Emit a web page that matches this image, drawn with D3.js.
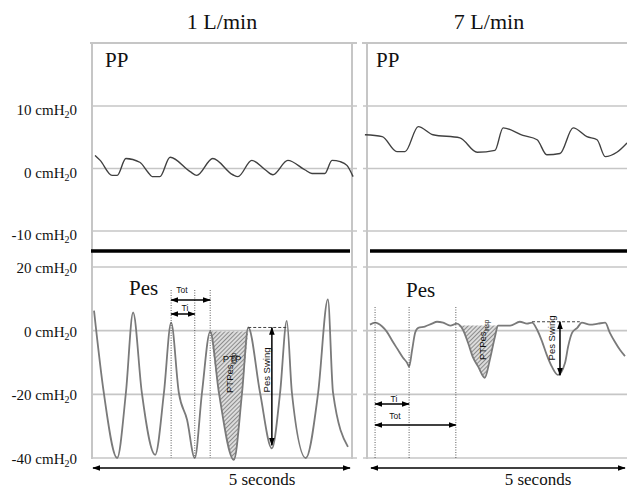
<!DOCTYPE html>
<html>
<head>
<meta charset="utf-8">
<script src="https://cdn.jsdelivr.net/npm/d3@7.9.0/dist/d3.min.js"></script>
<style>
  body { margin: 0; background: #fff; }
  svg { display: block; }
</style>
</head>
<body>
<svg id="chart" width="627" height="490"></svg>
<script>
// Column titles and tick values
const columnTitles = ["1 L/min", "7 L/min"];
const ppTicks = [-10, 0, 10];
const pesTicks = [-40, -20, 0, 20];

// Traces: [time (s), pressure (cmH2O)]
const ppLow = [
  [0.04, 2.1], [0.14, 1.3], [0.37, -1.1], [0.47, -1.1], [0.64, 1.6], [0.91, 1.0],
  [1.07, -0.6], [1.15, -1.3], [1.30, -1.3], [1.50, 1.8], [1.89, -0.5], [2.02, -1.1],
  [2.33, 1.6], [2.72, -1.0], [2.82, -1.3], [3.09, 1.3], [3.35, -0.2], [3.50, -1.0],
  [3.79, 1.3], [4.12, -0.2], [4.26, -0.8], [4.51, -0.8], [4.65, 1.3], [4.81, 1.1],
  [4.94, 0.5], [5.06, -1.3]
];
const ppHigh = [
  [-0.12, 5.4], [0.22, 5.1], [0.51, 2.7], [0.67, 2.7], [0.93, 6.7], [1.22, 5.4],
  [1.75, 4.9], [2.09, 2.6], [2.44, 2.9], [2.60, 6.5], [2.99, 5.3], [3.27, 4.6],
  [3.46, 2.2], [3.72, 2.4], [3.98, 6.5], [4.25, 5.1], [4.45, 4.6], [4.61, 1.9],
  [4.84, 2.6], [5.04, 4.1]
];
const pesLow = [
  [0.02, 6.3], [0.21, -19.5], [0.47, -40], [0.64, -19.5], [0.78, 5.7], [0.95, -19.5],
  [1.21, -39], [1.38, -19.5], [1.52, 2.5], [1.67, -19.5], [1.83, -28], [1.98, -40],
  [2.12, -19.5], [2.28, -0.3], [2.45, -19.5], [2.74, -40.6], [2.90, -19.5], [3.02, 1],
  [3.25, -19.5], [3.48, -37], [3.64, -19.5], [3.77, 3.1], [3.87, -19.5], [4.14, -40],
  [4.38, -19.5], [4.57, 9.8], [4.67, -19.5], [4.96, -36.5]
];
const pesHigh = [
  [-0.02, 1.9], [0.08, 2.5], [0.22, 1.3], [0.31, -0.3], [0.43, -3.5], [0.53, -6.0],
  [0.63, -8.5], [0.71, -10.1], [0.75, -11.3], [0.81, -6.0], [0.87, -0.6], [0.93, 0.9],
  [1.06, 1.3], [1.20, 2.2], [1.30, 2.8], [1.42, 2.5], [1.56, 1.6], [1.69, 2.2],
  [1.81, 0.3], [1.91, -3.8], [2.01, -8.5], [2.11, -11.3], [2.24, -14.8], [2.34, -9.1],
  [2.44, -1.9], [2.50, 1.6], [2.74, 1.6], [2.93, 2.8], [3.07, 2.2], [3.17, 2.5],
  [3.27, 0.3], [3.37, -3.5], [3.46, -7.6], [3.56, -11.3], [3.68, -13.9], [3.82, -10.1],
  [3.88, -5.0], [3.96, -0.6], [4.06, 0.9], [4.15, 2.5], [4.31, 1.9], [4.47, 2.2],
  [4.61, 2.5], [4.70, -0.6], [4.80, -3.5], [4.90, -6.0], [5.00, -8.0]
];

// Annotation times (s) and levels (cmH2O)
const lowTiTot = [1.52, 1.98, 2.28];   // start, end Ti, end Tot
const highTiTot = [0.08, 0.75, 1.67];
const lowPtp = [2.28, 3.02];           // inspiratory effort window
const highPtp = [1.69, 2.50];
const lowSwing = { from: 3.02, to: 3.77, at: 3.48, top: 1, bottom: -36 };
const highSwing = { from: 3.17, to: 4.11, at: 3.72, top: 2.8, bottom: -14 };

const svg = d3.select("#chart");
const serif = "'Liberation Serif', 'Times New Roman', serif";
const sans = "'Liberation Sans', Arial, sans-serif";
const gridColor = "#c6c6c6";

const yPP = d3.scaleLinear().domain([-10, 10]).range([231, 106]);
const yPes = d3.scaleLinear().domain([-40, 20]).range([458, 267]);

const defs = svg.append("defs");
defs.append("marker")
  .attr("id", "arrow")
  .attr("viewBox", "0 0 10 10")
  .attr("refX", 9).attr("refY", 5)
  .attr("markerUnits", "userSpaceOnUse")
  .attr("markerWidth", 8).attr("markerHeight", 8)
  .attr("orient", "auto-start-reverse")
  .append("path").attr("d", "M0,1.5L10,5L0,8.5Z").attr("fill", "#000");

const hatch = defs.append("pattern")
  .attr("id", "hatch")
  .attr("patternUnits", "userSpaceOnUse")
  .attr("width", 3).attr("height", 3)
  .attr("patternTransform", "rotate(45)");
hatch.append("rect").attr("width", 3).attr("height", 3).attr("fill", "#dcdcdc");
hatch.append("line").attr("x1", 0.5).attr("y1", 0).attr("x2", 0.5).attr("y2", 3)
  .attr("stroke", "#8c8c8c").attr("stroke-width", 1);

const columns = [
  {
    title: columnTitles[0], x: d3.scaleLinear().domain([0, 5]).range([93, 350]),
    gridX: [91, 357], frameX: [92, 352], thickX: [91, 350], titleX: 222,
    ppLabel: [105, 67], pesLabel: [129, 295], secondsX: 262,
    pp: ppLow, pes: pesLow, tiTot: lowTiTot, ptp: lowPtp, swing: lowSwing
  },
  {
    title: columnTitles[1], x: d3.scaleLinear().domain([0, 5]).range([371, 625]),
    gridX: [363, 627], frameX: [367], thickX: [370, 627], titleX: 489,
    ppLabel: [376, 67], pesLabel: [406, 297], secondsX: 538,
    pp: ppHigh, pes: pesHigh, tiTot: highTiTot, ptp: highPtp, swing: highSwing
  }
];

// y labels
function cmLabel(y, v, dy) {
  const t = svg.append("text")
    .attr("x", 77).attr("y", y + dy)
    .attr("text-anchor", "end")
    .attr("font-family", serif).attr("font-size", 15).attr("fill", "#111");
  t.append("tspan").text(`${v} cmH`);
  t.append("tspan").attr("font-size", 10).attr("dy", 3).text("2");
  t.append("tspan").attr("dy", -3).text("0");
}
ppTicks.forEach(v => cmLabel(yPP(v), v, 9));
pesTicks.forEach(v => cmLabel(yPes(v), v, 6));

columns.forEach(c => {
  const g = svg.append("g");
  const x = c.x;

  // title
  g.append("text").attr("x", c.titleX).attr("y", 29)
    .attr("text-anchor", "middle").attr("font-family", serif).attr("font-size", 22)
    .attr("fill", "#111").text(c.title);

  // frame and grid
  g.append("line").attr("x1", c.gridX[0] - 1).attr("x2", c.gridX[1])
    .attr("y1", 43).attr("y2", 43).attr("stroke", gridColor).attr("stroke-width", 2);
  c.frameX.forEach(fx => {
    g.append("line").attr("x1", fx).attr("x2", fx).attr("y1", 43).attr("y2", 459)
      .attr("stroke", gridColor).attr("stroke-width", 2);
  });
  ppTicks.forEach(v => {
    g.append("line").attr("x1", c.gridX[0]).attr("x2", c.gridX[1])
      .attr("y1", yPP(v)).attr("y2", yPP(v)).attr("stroke", gridColor).attr("stroke-width", 1.6);
  });
  pesTicks.forEach(v => {
    g.append("line").attr("x1", c.gridX[0]).attr("x2", c.gridX[1])
      .attr("y1", yPes(v)).attr("y2", yPes(v)).attr("stroke", gridColor).attr("stroke-width", 1.6);
  });
  g.append("line").attr("x1", c.thickX[0]).attr("x2", c.thickX[1])
    .attr("y1", 251).attr("y2", 251).attr("stroke", "#000").attr("stroke-width", 3.5);

  // panel labels
  g.append("text").attr("x", c.ppLabel[0]).attr("y", c.ppLabel[1])
    .attr("font-family", serif).attr("font-size", 21).attr("fill", "#111").text("PP");
  g.append("text").attr("x", c.pesLabel[0]).attr("y", c.pesLabel[1])
    .attr("font-family", serif).attr("font-size", 21).attr("fill", "#111").text("Pes");

  // PTP shaded area
  const ptpPts = c.pes.filter(d => d[0] >= c.ptp[0] - 1e-6 && d[0] <= c.ptp[1] + 1e-6);
  const ptpTop = Math.min(ptpPts[0][1], ptpPts[ptpPts.length - 1][1]);
  g.append("path").datum(ptpPts)
    .attr("d", d3.area().x(d => x(d[0])).y0(yPes(ptpTop)).y1(d => yPes(Math.min(d[1], ptpTop)))
      .curve(d3.curveMonotoneX))
    .attr("fill", "url(#hatch)");

  // traces
  g.append("path").datum(c.pp)
    .attr("d", d3.line().x(d => x(d[0])).y(d => yPP(d[1])).curve(d3.curveMonotoneX))
    .attr("fill", "none").attr("stroke", "#404040").attr("stroke-width", 1.4);
  g.append("path").datum(c.pes)
    .attr("d", d3.line().x(d => x(d[0])).y(d => yPes(d[1])).curve(d3.curveMonotoneX))
    .attr("fill", "none").attr("stroke", "#7a7a7a").attr("stroke-width", 1.8);

  // 5 seconds arrow
  g.append("line").attr("x1", x(0)).attr("x2", x(5)).attr("y1", 468).attr("y2", 468)
    .attr("stroke", "#000").attr("stroke-width", 1.5)
    .attr("marker-start", "url(#arrow)").attr("marker-end", "url(#arrow)");
  g.append("text").attr("x", c.secondsX).attr("y", 485).attr("text-anchor", "middle")
    .attr("font-family", serif).attr("font-size", 17).attr("fill", "#111").text("5 seconds");

  // Pes swing
  const s = c.swing;
  g.append("line").attr("x1", x(s.from)).attr("x2", x(s.to))
    .attr("y1", yPes(s.top)).attr("y2", yPes(s.top))
    .attr("stroke", "#444").attr("stroke-width", 1).attr("stroke-dasharray", "3,2");
  g.append("line").attr("x1", x(s.at)).attr("x2", x(s.at))
    .attr("y1", yPes(s.top)).attr("y2", yPes(s.bottom))
    .attr("stroke", "#000").attr("stroke-width", 1.5)
    .attr("marker-start", "url(#arrow)").attr("marker-end", "url(#arrow)");
});

// dotted time markers, Ti / Tot arrows and small labels
function timing(x, tt, top, tiY, totY, tiLab, totLab) {
  tt.forEach(t => {
    svg.append("line").attr("x1", x(t)).attr("x2", x(t)).attr("y1", top).attr("y2", 458)
      .attr("stroke", "#333").attr("stroke-width", 0.8).attr("stroke-dasharray", "1,1.5");
  });
  [[tiY, tt[1]], [totY, tt[2]]].forEach(([yy, t1]) => {
    svg.append("line").attr("x1", x(tt[0])).attr("x2", x(t1)).attr("y1", yy).attr("y2", yy)
      .attr("stroke", "#000").attr("stroke-width", 1.5)
      .attr("marker-start", "url(#arrow)").attr("marker-end", "url(#arrow)");
  });
  [[tiLab, "Ti"], [totLab, "Tot"]].forEach(([p, txt]) => {
    svg.append("text").attr("x", p[0]).attr("y", p[1]).attr("text-anchor", "middle")
      .attr("font-family", sans).attr("font-size", 8.5).attr("fill", "#111").text(txt);
  });
}
timing(columns[0].x, lowTiTot, 290, 314, 300, [185, 311], [182, 293]);
timing(columns[1].x, highTiTot, 307, 404, 425, [394, 402], [395, 419]);

function rotated(x, y, anchor, parts) {
  const t = svg.append("text").attr("transform", `translate(${x},${y}) rotate(-90)`)
    .attr("text-anchor", anchor).attr("font-family", sans).attr("font-size", 9.5).attr("fill", "#111");
  parts.forEach(p => {
    const sp = t.append("tspan").text(p.text);
    if (p.sub) sp.attr("font-size", 6.5).attr("dy", 2.5);
  });
}
rotated(233, 393, "start", [{ text: "PTPes" }, { text: "insp", sub: true }]);
svg.append("text").attr("x", 232).attr("y", 362).attr("text-anchor", "middle")
  .attr("font-family", sans).attr("font-size", 9.5).attr("fill", "#111").text("PTP");
rotated(486, 360, "start", [{ text: "PTPes" }, { text: "insp", sub: true }]);
rotated(270, 370, "middle", [{ text: "Pes Swing" }]);
rotated(555, 338, "middle", [{ text: "Pes Swing" }]);
</script>
</body>
</html>
